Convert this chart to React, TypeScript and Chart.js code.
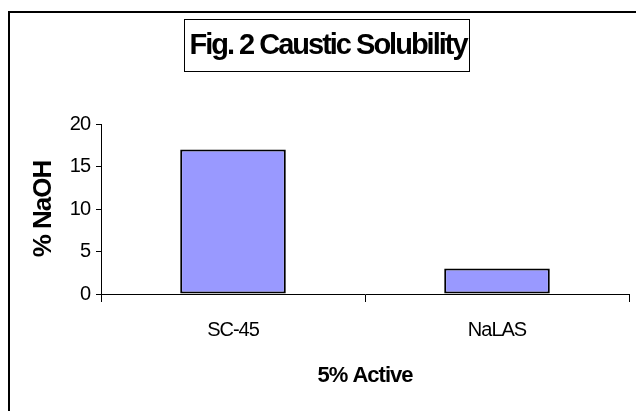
import React, { useEffect, useRef } from 'react';
import { Chart, registerables } from 'chart.js';

Chart.register(...registerables);

const categories: string[] = ['SC-45', 'NaLAS'];
const naohPercent: number[] = [17, 3];
const yMin = 0;
const yMax = 20;
const yStep = 5;
const chartTitle = 'Fig. 2 Caustic Solubility';
const xAxisTitle = '5% Active';
const yAxisTitle = '% NaOH';

const FONT = '"Liberation Sans", Arial, sans-serif';

const framePlugin = {
  id: 'frameAndTitle',
  beforeDraw(chart: any) {
    const ctx = chart.ctx;
    ctx.save();
    ctx.fillStyle = '#ffffff';
    ctx.fillRect(0, 0, chart.width, chart.height);
    ctx.restore();
    ctx.letterSpacing = '-1px';
  },
  afterDraw(chart: any) {
    const ctx = chart.ctx;
    ctx.save();
    // outer chart frame (only left and top edges visible)
    ctx.strokeStyle = '#000';
    ctx.lineWidth = 2;
    ctx.beginPath();
    ctx.moveTo(9, chart.height + 4);
    ctx.lineTo(9, 12);
    ctx.lineTo(chart.width + 4, 12);
    ctx.stroke();

    // boxed title
    ctx.font = `bold 29px ${FONT}`;
    (ctx as any).letterSpacing = '-2px';
    ctx.fillStyle = '#000';
    ctx.textAlign = 'center';
    ctx.textBaseline = 'middle';
    const cx = 328;
    const cy = 46;
    ctx.fillText(chartTitle, cx, cy);
    ctx.lineWidth = 1;
    ctx.strokeStyle = '#000';
    ctx.strokeRect(184.5, 19.5, 285, 52);
    ctx.restore();
  },
};

export default function App() {
  const ref = useRef<HTMLCanvasElement | null>(null);

  useEffect(() => {
    if (!ref.current) return;
    const chart = new Chart(ref.current, {
      type: 'bar',
      data: {
        labels: categories,
        datasets: [
          {
            label: '% NaOH',
            data: naohPercent,
            backgroundColor: '#9999FF',
            borderColor: '#000000',
            borderWidth: 2,
            borderSkipped: false,
            categoryPercentage: 1,
            barPercentage: 0.4,
          },
        ],
      },
      options: {
        animation: false,
        responsive: true,
        maintainAspectRatio: false,
        devicePixelRatio: 1,
        layout: { padding: { top: 124, right: 7, bottom: 0, left: 0 } },
        plugins: {
          legend: { display: false },
          title: { display: false },
          tooltip: { enabled: false },
        },
        scales: {
          x: {
            type: 'category',
            offset: true,
            grid: {
              display: true,
              drawOnChartArea: false,
              drawTicks: true,
              tickLength: 8,
              offset: true,
              color: '#000',
            },
            border: { display: true, color: '#000', width: 1 },
            ticks: {
              color: '#000',
              font: { family: FONT, size: 20 },
              padding: 16,
              maxRotation: 0,
            },
            title: {
              display: true,
              text: xAxisTitle,
              color: '#000',
              font: { family: FONT, size: 22, weight: 'bold' },
              padding: { top: 0, bottom: 22 },
            },
            afterFit(scale: any) {
              scale.height = 117;
            },
          },
          y: {
            min: yMin,
            max: yMax,
            grid: {
              display: true,
              drawOnChartArea: false,
              drawTicks: true,
              tickLength: 5,
              color: '#000',
            },
            border: { display: true, color: '#000', width: 1 },
            ticks: {
              stepSize: yStep,
              color: '#000',
              font: { family: FONT, size: 20 },
              padding: 6,
            },
            title: {
              display: true,
              text: yAxisTitle,
              color: '#000',
              font: { family: FONT, size: 26, weight: 'bold' },
              padding: { top: 28, bottom: 0 },
            },
            afterFit(scale: any) {
              scale.width = 101;
            },
          },
        },
      },
      plugins: [framePlugin],
    });
    return () => chart.destroy();
  }, []);

  return (
    <div style={{ position: 'absolute', left: 0, top: 0, width: 636, height: 411 }}>
      <canvas ref={ref} />
    </div>
  );
}
